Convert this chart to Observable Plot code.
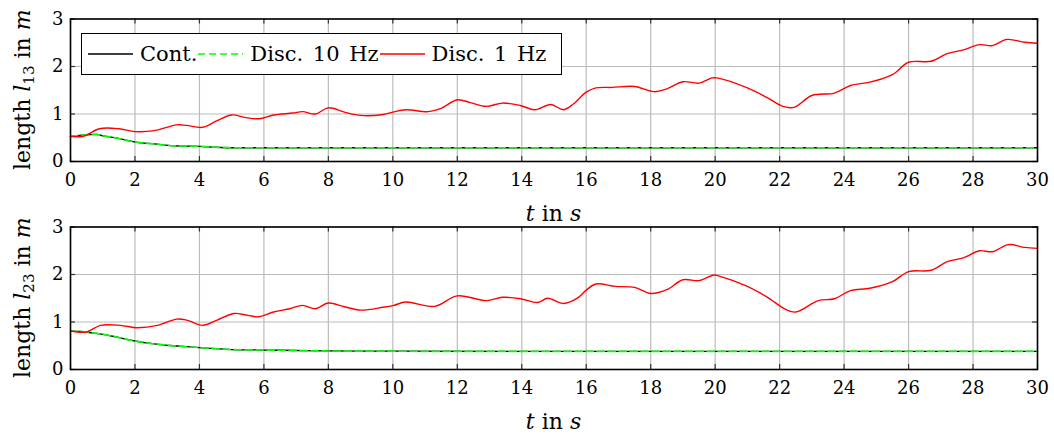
<!DOCTYPE html>
<html><head><meta charset="utf-8">
<script src="https://cdn.jsdelivr.net/npm/d3@7"></script>
<script src="https://cdn.jsdelivr.net/npm/@observablehq/plot@0.6"></script>
<style>
body{margin:0;background:#fff;width:1054px;height:436px;position:relative;overflow:hidden;font-family:"DejaVu Serif",serif;}
.panel{position:absolute;left:0;}
#legend{position:absolute;left:81px;top:33px;width:481px;height:42px;box-sizing:border-box;border:1.5px solid #000;background:#fff;display:flex;align-items:center;padding-left:6px;font-size:21px;word-spacing:3px;color:#000;z-index:5;white-space:pre;}
#legend svg{display:block;margin-right:7px;}
#legend span{margin-right:1px;}
</style></head><body>
<div id="p1" class="panel" style="top:0"></div>
<div id="p2" class="panel" style="top:208px"></div>
<div id="legend"></div>
<script>
// axis ticks
const xTicks = [0,2,4,6,8,10,12,14,16,18,20,22,24,26,28,30];
const yTicks = [0,1,2,3];
const legendLabels = ["Cont.", "Disc. 10 Hz", "Disc. 1 Hz"];
const legendColors = ["#000000", "#00ff00", "#ff0000"];

// Continuous response (time, l13, l23)
const tCont = [0,0.3,0.8,1.0,1.45,2.0,2.6,3.2,3.6,4.0,4.5,5.0,6.0,7.0,8.0,10,15,20,25,30];
const l13Cont = [0.53,0.55,0.57,0.54,0.49,0.41,0.37,0.33,0.325,0.32,0.30,0.29,0.29,0.29,0.29,0.29,0.29,0.29,0.29,0.29];
const l23Cont = [0.81,0.80,0.76,0.74,0.68,0.60,0.54,0.50,0.48,0.46,0.44,0.42,0.41,0.40,0.39,0.385,0.38,0.38,0.38,0.38];
// Discrete 10 Hz (coincides with continuous)
const tDisc10 = tCont;
const l13Disc10 = [0.53,0.55,0.57,0.54,0.49,0.41,0.37,0.33,0.325,0.32,0.30,0.29,0.29,0.29,0.29,0.29,0.29,0.29,0.29,0.29];
const l23Disc10 = [0.81,0.80,0.76,0.74,0.68,0.60,0.54,0.50,0.48,0.46,0.44,0.42,0.41,0.40,0.39,0.385,0.38,0.38,0.38,0.38];

// Discrete 1 Hz, l13
const tDisc1a = [0,0.4,0.9,1.5,2.0,2.6,3.3,3.6,4.1,4.55,5.0,5.4,5.85,6.3,6.9,7.2,7.6,8.0,8.5,9.0,9.7,10.0,10.4,11.1,11.5,12.0,12.4,12.9,13.4,13.95,14.4,14.9,15.3,15.6,16.0,16.3,16.8,17.5,18.1,18.5,19.0,19.5,19.9,20.05,21.0,21.6,22.1,22.45,23.0,23.7,24.2,24.8,25.5,26.0,26.7,27.2,27.7,28.2,28.6,29.05,29.6,30.0];
const l13Disc1 = [0.53,0.53,0.69,0.69,0.63,0.65,0.77,0.76,0.72,0.86,0.98,0.93,0.90,0.98,1.02,1.05,1.00,1.13,1.04,0.97,0.99,1.04,1.09,1.05,1.12,1.30,1.24,1.16,1.23,1.18,1.09,1.20,1.09,1.21,1.46,1.55,1.56,1.58,1.47,1.53,1.68,1.65,1.76,1.76,1.55,1.35,1.16,1.14,1.39,1.44,1.60,1.67,1.83,2.09,2.11,2.27,2.35,2.46,2.44,2.57,2.51,2.49];
// Discrete 1 Hz, l23
const tDisc1b = [0,0.5,0.93,1.55,2.07,2.7,3.3,3.6,4.1,4.55,5.07,5.5,5.85,6.3,6.8,7.2,7.6,8.0,8.5,9.0,9.7,10.03,10.4,11.3,12.0,12.9,13.4,13.96,14.5,14.8,15.3,15.7,16.0,16.3,16.9,17.5,18.0,18.5,19.0,19.5,19.96,20.1,21.0,21.6,22.2,22.5,23.2,23.7,24.2,24.8,25.5,26.0,26.7,27.2,27.7,28.2,28.6,29.1,29.6,30.0];
const l23Disc1 = [0.81,0.79,0.93,0.93,0.88,0.93,1.06,1.04,0.93,1.04,1.18,1.14,1.11,1.21,1.28,1.35,1.28,1.40,1.32,1.25,1.31,1.35,1.42,1.33,1.55,1.45,1.52,1.49,1.41,1.50,1.39,1.49,1.67,1.80,1.75,1.73,1.60,1.68,1.89,1.87,1.99,1.97,1.75,1.53,1.26,1.21,1.45,1.49,1.66,1.71,1.85,2.06,2.09,2.27,2.35,2.50,2.48,2.63,2.57,2.55];

const zip = (ts, vs) => ts.map((t, i) => ({t, v: vs[i]}));

function makePlot(sel, cont, disc10, disc1, sub) {
  const H = 228, mT = 18.5, mB = H - 161;
  const ph = H - mT - mB, tl = 5;
  const p = Plot.plot({
    width: 1054, height: H,
    marginLeft: 70, marginRight: 17, marginTop: mT, marginBottom: mB,
    x: {domain: [0, 30], ticks: xTicks, tickSize: 0, tickPadding: 12, label: null, tickFormat: d => String(d)},
    y: {domain: [0, 3], ticks: yTicks, tickSize: 0, tickPadding: 7, label: null, tickFormat: d => String(d)},
    style: {fontFamily: "DejaVu Serif", fontSize: "18px", background: "transparent", overflow: "visible", color: "#000"},
    marks: [
      Plot.gridX(xTicks, {stroke: "#bcbcbc", strokeOpacity: 1, strokeWidth: 1.2}),
      Plot.gridY(yTicks, {stroke: "#bcbcbc", strokeOpacity: 1, strokeWidth: 1.2}),
      // inward tick marks on all four sides
      Plot.tickX(xTicks, {x: d => d, insetTop: ph - tl, stroke: "#333", strokeWidth: 1.2}),
      Plot.tickX(xTicks, {x: d => d, insetBottom: ph - tl, stroke: "#333", strokeWidth: 1.2}),
      Plot.tickY(yTicks, {y: d => d, insetRight: 967 - tl, stroke: "#333", strokeWidth: 1.2}),
      Plot.tickY(yTicks, {y: d => d, insetLeft: 967 - tl, stroke: "#333", strokeWidth: 1.2}),
      Plot.line(cont, {x: "t", y: "v", stroke: legendColors[0], strokeWidth: 1.3, curve: "monotone-x"}),
      Plot.line(disc10, {x: "t", y: "v", stroke: legendColors[1], strokeWidth: 1.7, strokeDasharray: "7,4", curve: "monotone-x"}),
      Plot.line(disc1, {x: "t", y: "v", stroke: legendColors[2], strokeWidth: 1.4, curve: "catmull-rom"}),
      Plot.frame({stroke: "#000", strokeWidth: 1.6})
    ]
  });
  const svg = d3.select(p);
  const xr = p.scale("x").range, yr = p.scale("y").range;
  const xl = svg.append("text")
    .attr("x", (xr[0] + xr[1]) / 2).attr("y", yr[0] + 52)
    .attr("text-anchor", "middle").attr("dy", "0.35em")
    .style("font-size", "22px").attr("fill", "#000");
  xl.append("tspan").attr("font-style", "italic").text("t");
  xl.append("tspan").text(" in ");
  xl.append("tspan").attr("font-style", "italic").text("s");

  const yl = svg.append("text")
    .attr("transform", `translate(22,${(yr[0] + yr[1]) / 2}) rotate(-90)`)
    .attr("text-anchor", "middle").attr("dy", "0.35em")
    .style("font-size", "22px").attr("fill", "#000");
  yl.append("tspan").text("length ");
  yl.append("tspan").attr("font-style", "italic").text("l");
  yl.append("tspan").attr("dy", 4).style("font-size", "15px").text(sub);
  yl.append("tspan").attr("dy", -4).text(" in ");
  yl.append("tspan").attr("font-style", "italic").text("m");
  document.querySelector(sel).appendChild(p);
}

makePlot("#p1", zip(tCont, l13Cont), zip(tDisc10, l13Disc10), zip(tDisc1a, l13Disc1), "13");
makePlot("#p2", zip(tCont, l23Cont), zip(tDisc10, l23Disc10), zip(tDisc1b, l23Disc1), "23");

// legend
const leg = document.getElementById("legend");
legendLabels.forEach((lab, i) => {
  const s = document.createElementNS("http://www.w3.org/2000/svg", "svg");
  s.setAttribute("width", 45); s.setAttribute("height", 10);
  const ln = document.createElementNS("http://www.w3.org/2000/svg", "line");
  ln.setAttribute("x1", 0); ln.setAttribute("x2", 45); ln.setAttribute("y1", 5); ln.setAttribute("y2", 5);
  ln.setAttribute("stroke", legendColors[i]); ln.setAttribute("stroke-width", 1.6);
  if (i === 1) ln.setAttribute("stroke-dasharray", "7,4");
  s.appendChild(ln);
  leg.appendChild(s);
  const sp = document.createElement("span");
  sp.textContent = lab;
  leg.appendChild(sp);
});
</script>
</body></html>
